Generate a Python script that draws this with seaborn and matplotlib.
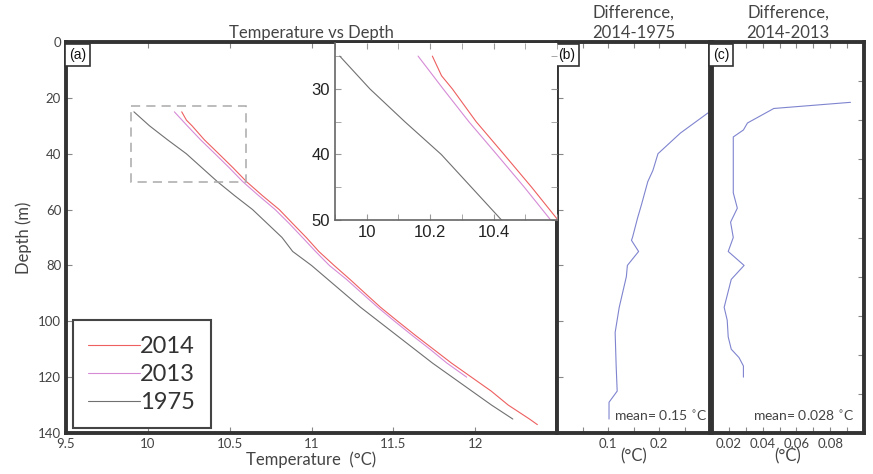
import numpy as np
import pandas as pd
import matplotlib.pyplot as plt
import seaborn as sns
from matplotlib.ticker import FuncFormatter, MultipleLocator

# Perfis de temperatura
depth_1975 = [25, 30, 35, 40, 45, 50, 55, 60, 65, 70, 75, 80, 85, 90, 95,
              100, 105, 110, 115, 120, 125, 130, 135]
temp_1975 = [9.915, 10.01, 10.12, 10.235, 10.33, 10.425, 10.53, 10.64, 10.73,
             10.82, 10.885, 11.0, 11.10, 11.20, 11.30, 11.41, 11.52, 11.63,
             11.74, 11.86, 11.98, 12.10, 12.23]

depth_2014 = [25, 28, 30, 35, 40, 45, 50, 55, 60, 65, 70, 75, 80, 85, 90, 95,
              100, 105, 110, 115, 120, 125, 130, 135, 137]
temp_2014 = [10.207, 10.236, 10.27, 10.345, 10.433, 10.52, 10.603, 10.70,
             10.803, 10.885, 10.968, 11.045, 11.138, 11.235, 11.328, 11.422,
             11.527, 11.634, 11.745, 11.856, 11.977, 12.098, 12.202, 12.332,
             12.38]

depth_2013 = [25, 30, 35, 40, 45, 50, 55, 60, 65, 70, 75, 80, 85, 90, 95,
              100, 105, 110, 115, 120]
temp_2013 = [10.162, 10.241, 10.322, 10.41, 10.497, 10.58, 10.677, 10.778,
             10.864, 10.945, 11.025, 11.109, 11.214, 11.309, 11.405, 11.508,
             11.614, 11.724, 11.828, 11.948]

# Diferenças
depth_b = [25.4, 32.6, 40, 46, 50, 58, 63, 70, 71, 75, 80, 84, 95, 104, 116,
           125, 129, 135]
diff_b = [0.296, 0.242, 0.198, 0.188, 0.178, 0.166, 0.158, 0.148, 0.146, 0.16,
          0.138, 0.136, 0.122, 0.114, 0.116, 0.118, 0.102, 0.102]

depth_c = [21.6, 23.8, 26.8, 29, 31.5, 34, 54, 59.5, 64.5, 70, 75, 80, 85, 95,
           99.6, 105.6, 110, 113, 116, 120]
diff_c = [0.092, 0.0466, 0.0376, 0.031, 0.0286, 0.0226, 0.0226, 0.025, 0.021,
          0.0226, 0.0196, 0.029, 0.0214, 0.0172, 0.019, 0.0196, 0.0214, 0.026,
          0.0286, 0.0286]

years = ["2014", "2013", "1975"]
cores = {"2014": "#ee5f5f", "2013": "#d68ad6", "1975": "#707070"}
cor_diff = "#7f84cf"
zoom_t = (9.9, 10.6)
zoom_d = (23, 50)

df = pd.concat([
    pd.DataFrame({"Depth": depth_2014, "Temp": temp_2014, "ano": "2014"}),
    pd.DataFrame({"Depth": depth_2013, "Temp": temp_2013, "ano": "2013"}),
    pd.DataFrame({"Depth": depth_1975, "Temp": temp_1975, "ano": "1975"}),
], ignore_index=True)

sns.set_style("ticks")
plt.rcParams["font.family"] = ["Lato", "DejaVu Sans"]

BORDA = "#333333"
TXT = "#444444"
LW = 0.8


def estilo(ax, lw=2.8):
    for s in ax.spines.values():
        s.set_linewidth(lw)
        s.set_color(BORDA)
    ax.tick_params(direction="in", length=4, width=0.8, color="#888888",
                   labelcolor=TXT, labelsize=9.5, top=True)
    ax.tick_params(which="minor", direction="in", length=4, width=0.8,
                   color="#888888", top=True)


def rotulo(ax, texto):
    ax.text(0.006, 0.985, texto, transform=ax.transAxes, ha="left", va="top",
            fontsize=10, family="Liberation Sans", color="#111111", zorder=10,
            bbox=dict(boxstyle="square,pad=0.3", fc="white", ec=BORDA, lw=1.2))


fig = plt.figure(figsize=(8.73, 4.74), dpi=100)
ax = fig.add_axes([66 / 873, 1 - 433 / 474, 491 / 873, 391 / 474])
ax_b = fig.add_axes([557 / 873, 1 - 433 / 474, 153 / 873, 391 / 474])
ax_c = fig.add_axes([712 / 873, 1 - 433 / 474, 152 / 873, 391 / 474])

# (a)
sns.lineplot(data=df, x="Temp", y="Depth", hue="ano", hue_order=years,
             palette=cores, sort=False, estimator=None, lw=LW, ax=ax)
ax.set_xlim(9.5, 12.5)
ax.set_ylim(140, 0)
ax.set_xticks(np.arange(9.5, 12.51, 0.5))
ax.xaxis.set_major_formatter(FuncFormatter(lambda v, p: "" if v > 12.2 else f"{v:g}"))
ax.set_yticks(np.arange(0, 141, 20))
estilo(ax)
ax.set_xlabel("Temperature  (°C)", fontsize=12, color=TXT, labelpad=1)
ax.set_ylabel("Depth (m)", fontsize=12, color=TXT, labelpad=4)
ax.set_title("Temperature vs Depth", fontsize=12, color=TXT, pad=3)
ax.indicate_inset([zoom_t[0], zoom_d[0], zoom_t[1] - zoom_t[0], zoom_d[1] - zoom_d[0]],
                  edgecolor="#aaaaaa", linestyle=(0, (6, 4)), linewidth=1.1, alpha=1)
leg = ax.legend(loc="lower left", bbox_to_anchor=(0.014, 0.012), fontsize=17,
                handlelength=2.2, handletextpad=0.0, labelspacing=0.3,
                borderpad=0.65, fancybox=False, edgecolor="#444444",
                framealpha=1, borderaxespad=0)
leg.get_frame().set_linewidth(1.5)
for t in leg.get_texts():
    t.set_color("#333333")
rotulo(ax, "(a)")

# inset
axi = fig.add_axes([335 / 873, 1 - 220 / 474, 222 / 873, 177 / 474])
sns.lineplot(data=df, x="Temp", y="Depth", hue="ano", hue_order=years,
             palette=cores, sort=False, estimator=None, lw=LW, ax=axi,
             legend=False)
axi.set_xlim(*zoom_t)
axi.set_ylim(zoom_d[1], zoom_d[0])
axi.set_xticks([10.0, 10.2, 10.4])
axi.xaxis.set_minor_locator(MultipleLocator(0.1))
axi.yaxis.set_major_locator(MultipleLocator(10))
axi.yaxis.set_minor_locator(MultipleLocator(5))
axi.xaxis.set_major_formatter(FuncFormatter(lambda v, p: f"{v:g}"))
for s in axi.spines.values():
    s.set_linewidth(1.2)
    s.set_color("#666666")
axi.spines["top"].set_visible(False)
axi.spines["right"].set_visible(False)
axi.tick_params(which="both", direction="in", length=4, color="#999999",
                top=True, right=True, labelsize=12, labelcolor="#222222")
for lab in axi.get_xticklabels() + axi.get_yticklabels():
    lab.set_family("Liberation Sans")
axi.set_xlabel("")
axi.set_ylabel("")

# (b)
sns.lineplot(x=diff_b, y=depth_b, sort=False, estimator=None, color=cor_diff,
             lw=LW, ax=ax_b)
ax_b.set_xlim(0, 0.3)
ax_b.set_ylim(140, 0)
ax_b.set_xticks(np.arange(0, 0.301, 0.05))
ax_b.xaxis.set_major_formatter(FuncFormatter(lambda v, p: f"{v:g}" if round(v, 2) in (0.1, 0.2) else ""))
ax_b.set_yticks(np.arange(0, 141, 20))
ax_b.set_yticklabels([])
estilo(ax_b)
ax_b.set_xlabel("(°C)", fontsize=12, color=TXT, labelpad=-1)
ax_b.set_title("Difference,\n2014-1975", fontsize=12, color=TXT, pad=3,
               linespacing=1.35)
ax_b.text(0.985, 0.025, "mean= 0.15 $^{\\circ}$C", transform=ax_b.transAxes,
          ha="right", va="bottom", fontsize=10, color=TXT)
rotulo(ax_b, "(b)")

# (c)
sns.lineplot(x=diff_c, y=depth_c, sort=False, estimator=None, color=cor_diff,
             lw=LW, ax=ax_c)
ax_c.set_xlim(0.01, 0.1)
ax_c.set_ylim(140, 0)
ax_c.set_xticks(np.arange(0.01, 0.1001, 0.01))
ax_c.xaxis.set_major_formatter(FuncFormatter(lambda v, p: f"{v:g}" if round(v, 2) in (0.02, 0.04, 0.06, 0.08) else ""))
ax_c.set_yticks(np.arange(0, 141, 14))
ax_c.yaxis.tick_right()
ax_c.set_yticklabels([])
estilo(ax_c)
ax_c.tick_params(left=False, right=True)
ax_c.set_xlabel("(°C)", fontsize=12, color=TXT, labelpad=-1)
ax_c.set_title("Difference,\n2014-2013", fontsize=12, color=TXT, pad=3,
               linespacing=1.35)
ax_c.text(0.94, 0.025, "mean= 0.028 $^{\\circ}$C", transform=ax_c.transAxes,
          ha="right", va="bottom", fontsize=10, color=TXT)
rotulo(ax_c, "(c)")

fig.savefig("out.png", dpi=100)
